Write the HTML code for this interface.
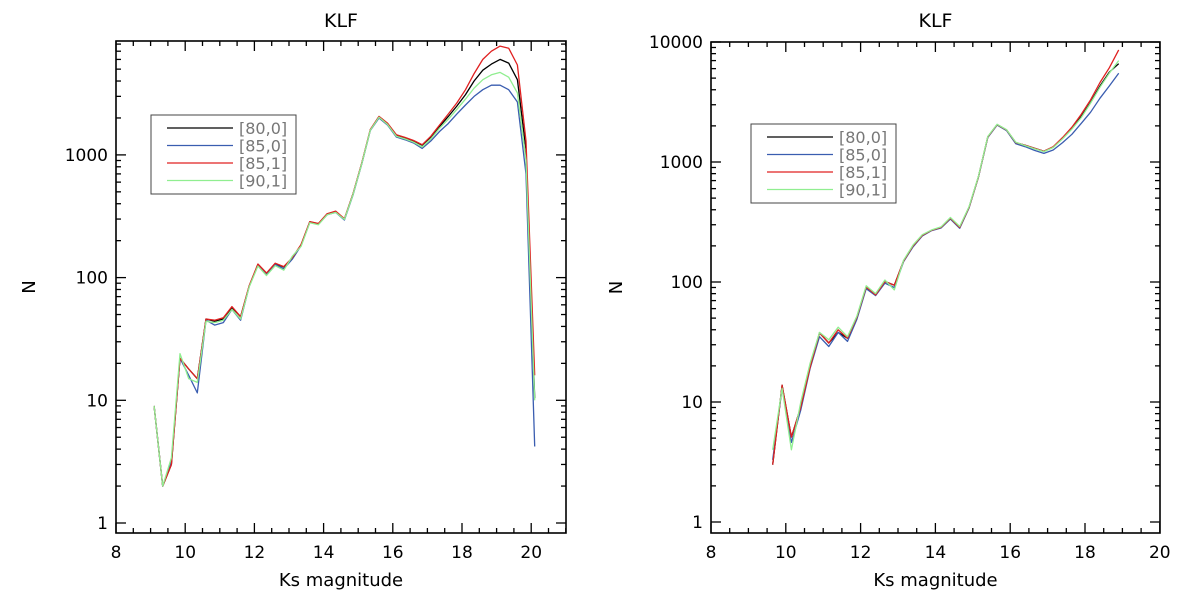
<!DOCTYPE html>
<html><head><meta charset="utf-8"><style>
body{margin:0;background:#fff;width:1200px;height:604px;overflow:hidden}
svg{font-family:"DejaVu Sans","Liberation Sans",sans-serif}
</style></head><body>
<svg id="c" width="1200" height="604" xmlns="http://www.w3.org/2000/svg"></svg>
<script>
// Left panel data
const leftX0 = 9.1, leftStep = 0.25;
const leftBlack = [9,2.0,3.0,22,18,15,46,44,46,57,48,85,128,108,130,122,145,185,285,275,330,345,300,480,850,1600,2050,1800,1450,1380,1300,1200,1400,1700,2050,2500,3100,4000,4900,5500,6000,5600,4100,1100,10.4];
const leftBlue  = [9,2.0,3.2,22,16,11.5,45,41,43,55,45,85,126,106,128,118,142,182,282,272,325,340,295,470,840,1580,2000,1750,1400,1330,1250,1130,1300,1550,1800,2150,2550,3000,3400,3700,3700,3400,2700,700,4.2];
const leftRed   = [9,2.0,3.0,22,18,15,46,45,47,58,48,86,129,109,131,123,146,186,286,276,332,348,302,482,855,1610,2060,1810,1460,1390,1310,1210,1420,1750,2150,2650,3400,4600,6000,7000,7700,7400,5400,1300,16];
const leftGreen = [9,2.0,3.4,24,15,14,44,43,45,55,46,84,124,104,125,115,150,180,280,270,325,340,298,475,845,1590,2030,1770,1420,1350,1270,1160,1350,1650,1950,2350,2850,3500,4100,4500,4700,4300,3200,900,10];
// Right panel data
const rightX0 = 9.65, rightStep = 0.25;
const rightBlack = [3.0,13.8,5.1,9.1,19.5,37.7,31,38,34,51,91,78,101,94,150,200,245,270,285,340,285,420,750,1620,2050,1850,1450,1380,1300,1230,1330,1580,1900,2400,3150,4300,5600,6600];
const rightBlue  = [3.3,13.0,4.6,8.6,19,35,29,38,32,49,88,77,98,90,148,196,242,268,282,335,280,415,745,1600,2030,1830,1420,1340,1250,1180,1260,1450,1700,2100,2600,3400,4300,5500];
const rightRed   = [3.0,13.8,5.1,9.1,19.5,37.7,31,40,34,51,91,78,101,94,150,200,245,270,285,340,285,420,750,1620,2050,1850,1450,1380,1300,1230,1340,1600,1950,2500,3300,4600,6100,8600];
const rightGreen = [4.0,13.0,4.0,10,21,38,33,42,35,52,93,80,104,86,152,203,248,272,288,345,290,425,755,1630,2060,1860,1460,1370,1290,1220,1320,1560,1880,2350,3100,4200,5500,7000];
const seriesNames = ["[80,0]","[85,0]","[85,1]","[90,1]"];
const colors = ["#000000","#3a5db0","#e02020","#90ee90"];

const NS="http://www.w3.org/2000/svg";
const svg=document.getElementById('c');
function mk(tag,attrs,parent){const e=document.createElementNS(NS,tag);for(const k in attrs)e.setAttribute(k,attrs[k]);(parent||svg).appendChild(e);return e;}

function panel(p){
  const g=mk('g',{});
  
  
  const sx=v=>p.xpx0+(v-p.xmin)*p.xs;
  const sy=v=>p.ypx1-Math.log10(v)*p.ys;
  const L=p.left,R=p.right,T=p.top,B=p.bottom;
  const frame=mk('rect',{x:L,y:T,width:R-L,height:B-T,fill:'none',stroke:'#000','stroke-width':1.6},g);
  
  
  // x ticks
  for(let v=p.xmin;v<=p.xmax+1e-6;v+=0.5){
    const x=sx(v); if(x<L-0.5||x>R+0.5)continue;
    const major=Math.abs(v-Math.round(v/2)*2)<1e-6;
    const len=major?10:5;
    mk('line',{x1:x,y1:B,x2:x,y2:B-len,stroke:'#000','stroke-width':1.3},g);
    mk('line',{x1:x,y1:T,x2:x,y2:T+len,stroke:'#000','stroke-width':1.3},g);
    if(major){const t=mk('text',{x:x,y:B+25,'text-anchor':'middle','font-size':17},g);t.textContent=String(Math.round(v));
      
      }
  }
  // y ticks
  for(let d=0;d<=4;d++){for(let m=1;m<=9;m++){
    const v=m*Math.pow(10,d);const y=sy(v);
    if(y<T-0.5||y>B+0.5)continue;
    const len=m===1?10:5;
    mk('line',{x1:L,y1:y,x2:L+len,y2:y,stroke:'#000','stroke-width':1.3},g);
    mk('line',{x1:R,y1:y,x2:R-len,y2:y,stroke:'#000','stroke-width':1.3},g);
    if(m===1){const t=mk('text',{x:L-8,y:y+6,'text-anchor':'end','font-size':17},g);t.textContent=String(v);
      
      }
  }}
  const tt=mk('text',{x:(L+R)/2,y:27,'text-anchor':'middle','font-size':19},g);tt.textContent='KLF';
  
  
  const xl=mk('text',{x:(L+R)/2,y:586,'text-anchor':'middle','font-size':18},g);xl.textContent='Ks magnitude';
  
  
  const yl=mk('text',{x:p.ylabX,y:(T+B)/2,'text-anchor':'middle','font-size':18,transform:`rotate(-90 ${p.ylabX} ${(T+B)/2})`},g);yl.textContent='N';
  
  
  // series
  const order=[3,1,0,2];
  p.series.forEach((arr,k)=>{
    const pts=arr.map((v,i)=>sx(p.x0+i*p.step).toFixed(1)+','+sy(v).toFixed(1)).join(' ');
    const pl=mk('polyline',{points:pts,fill:'none',stroke:colors[k],'stroke-width':1.3,'stroke-linejoin':'round'},g);
    
    
  });
  // legend
  const lg=mk('g',{},g);
  
  
  mk('rect',{x:p.lgx,y:p.lgy,width:145,height:79,fill:'#fff',stroke:'#444','stroke-width':1},lg);
  seriesNames.forEach((n,k)=>{
    const y=p.lgy+13+k*17.5;
    mk('line',{x1:p.lgx+16,y1:y,x2:p.lgx+82,y2:y,stroke:colors[k],'stroke-width':1.3},lg);
    const t=mk('text',{x:p.lgx+88,y:y+6,'font-size':16,fill:'#777'},lg);t.textContent=n;
    
    
  });
}
panel({name:'left-panel',left:116,right:566,top:41,bottom:533,xmin:8,xmax:21,xpx0:116,xs:34.6,ypx1:523,ys:122.7,
  ylabX:35,lgx:151,lgy:115,x0:leftX0,step:leftStep,series:[leftBlack,leftBlue,leftRed,leftGreen]});
panel({name:'right-panel',left:711,right:1160,top:42,bottom:533,xmin:8,xmax:20,xpx0:711,xs:37.4,ypx1:522,ys:120,
  ylabX:622,lgx:751,lgy:124,x0:rightX0,step:rightStep,series:[rightBlack,rightBlue,rightRed,rightGreen]});
</script>
</body></html>
